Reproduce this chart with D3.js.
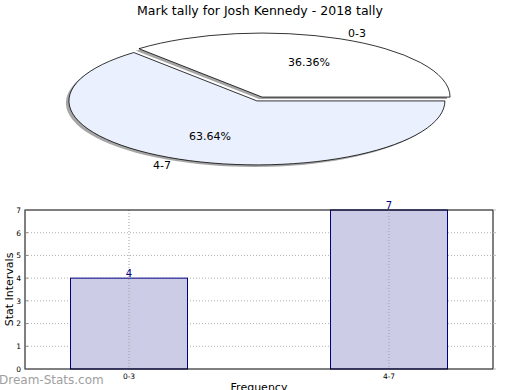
<!DOCTYPE html>
<html><head><meta charset="utf-8">
<script src="https://cdn.jsdelivr.net/npm/d3@7"></script>
<style>body{margin:0;background:#fff;} svg{display:block;font-family:"DejaVu Sans",sans-serif;}</style>
</head><body>
<script>
const title = "Mark tally for Josh Kennedy - 2018 tally";
const categories = ["0-3", "4-7"];
const values = [4, 7];
const pieColors = ["#ffffff", "#eaf0fd"];
const yTicks = [0, 1, 2, 3, 4, 5, 6, 7];
const xLabel = "Frequency";
const yLabel = "Stat Intervals";
const watermark = "Dream-Stats.com";

const W = 520, H = 390;
const svg = d3.select("body").append("svg").attr("width", W).attr("height", H);

svg.append("text").attr("x", 260).attr("y", 15).attr("text-anchor", "middle")
  .attr("font-size", 12.5).attr("fill", "#000").text(title);

// ---- Pie (elliptical, exploded, shadowed) ----
const cx = 259.5, cy = 99, rx = 188, ry = 64, explode = 0.033;
const total = d3.sum(values);
const pie = d3.pie().sort(null).startAngle(Math.PI / 2).endAngle(Math.PI / 2 - 2 * Math.PI);
const arcs = pie(values);
const arc = d3.arc().innerRadius(0).outerRadius(1);
const gPie = svg.append("g");

arcs.forEach((a) => {
  const mid = (a.startAngle + a.endAngle) / 2;
  const ux = Math.sin(mid), uy = -Math.cos(mid);
  a.ox = cx + explode * rx * ux;
  a.oy = cy + explode * ry * uy;
  a.ux = ux; a.uy = uy;
});
arcs.forEach((a) => {
  gPie.append("path").attr("d", arc(a))
    .attr("transform", `translate(${a.ox - 3},${a.oy + 2}) scale(${rx},${ry})`)
    .attr("fill", "#888").attr("fill-opacity", 0.75);
});
arcs.forEach((a, i) => {
  gPie.append("path").attr("d", arc(a))
    .attr("transform", `translate(${a.ox},${a.oy}) scale(${rx},${ry})`)
    .attr("fill", pieColors[i]).attr("stroke", "#000").attr("stroke-width", 0.8)
    .attr("vector-effect", "non-scaling-stroke");
});
arcs.forEach((a, i) => {
  const pct = (values[i] / total * 100).toFixed(2) + "%";
  gPie.append("text").attr("x", a.ox + 0.6 * rx * a.ux).attr("y", a.oy + 0.6 * ry * a.uy + 4)
    .attr("text-anchor", "middle").attr("font-size", 11).text(pct);
  const lx = a.ox + 1.1 * rx * a.ux, ly = a.oy + 1.1 * ry * a.uy;
  gPie.append("text").attr("x", lx).attr("y", ly + 4)
    .attr("text-anchor", a.ux < 0 ? "end" : "start").attr("font-size", 11).text(categories[i]);
});

// ---- Bar chart ----
const L = 25, R = 493, T = 210, B = 369;
const x = d3.scaleBand().domain(categories).range([L, R]).paddingInner(0.55).paddingOuter(0.175);
const y = d3.scaleLinear().domain([0, 7]).range([B, T]);
const g = svg.append("g");

g.selectAll(".hg").data(yTicks.filter(d => d > 0 && d < 7)).join("line")
  .attr("x1", L).attr("x2", R).attr("y1", d => y(d)).attr("y2", d => y(d))
  .attr("stroke", "#b0b0b0").attr("stroke-width", 1).attr("stroke-dasharray", "1,2");

g.selectAll(".bar").data(values).join("rect")
  .attr("x", (d, i) => x(categories[i])).attr("width", x.bandwidth())
  .attr("y", d => y(d)).attr("height", d => B - y(d))
  .attr("fill", "#ccccE6").attr("stroke", "#000080").attr("stroke-width", 1);

g.selectAll(".vg").data(categories).join("line")
  .attr("x1", d => x(d) + x.bandwidth() / 2).attr("x2", d => x(d) + x.bandwidth() / 2)
  .attr("y1", T).attr("y2", B)
  .attr("stroke", "#a0a0a0").attr("stroke-width", 1).attr("stroke-dasharray", "1,2");

g.selectAll(".vl").data(values).join("text")
  .attr("x", (d, i) => x(categories[i]) + x.bandwidth() / 2).attr("y", d => y(d) - 1)
  .attr("text-anchor", "middle").attr("font-size", 10).attr("fill", "#000080").text(d => d);

g.append("rect").attr("x", L).attr("y", T).attr("width", R - L).attr("height", B - T)
  .attr("fill", "none").attr("stroke", "#000").attr("stroke-width", 1);

const yAxis = d3.axisLeft(y).tickValues(yTicks).tickFormat(d3.format("d")).tickSize(0).tickPadding(4);
const ya = g.append("g").attr("transform", `translate(${L},0)`).call(yAxis);
ya.select(".domain").remove();
ya.selectAll("text").attr("font-size", 7.5).attr("font-family", "DejaVu Sans").attr("fill", "#000");

g.selectAll(".ytl").data(yTicks).join("line")
  .attr("x1", L).attr("x2", L + 3).attr("y1", d => y(d)).attr("y2", d => y(d))
  .attr("stroke", "#888");
g.selectAll(".ytr").data(yTicks).join("line")
  .attr("x1", R).attr("x2", R + 3).attr("y1", d => y(d)).attr("y2", d => y(d))
  .attr("stroke", "#bbb");

const xAxis = d3.axisBottom(x).tickSize(0).tickPadding(5);
const xa = g.append("g").attr("transform", `translate(0,${B})`).call(xAxis);
xa.select(".domain").remove();
xa.selectAll("text").attr("font-size", 7.5).attr("font-family", "DejaVu Sans").attr("fill", "#000");

svg.append("text").attr("transform", `translate(13,${(T + B) / 2}) rotate(-90)`)
  .attr("text-anchor", "middle").attr("font-size", 11).text(yLabel);
svg.append("text").attr("x", (L + R) / 2).attr("y", 391).attr("text-anchor", "middle")
  .attr("font-size", 11).text(xLabel);

svg.append("text").attr("x", -1).attr("y", 384).attr("font-size", 12)
  .attr("fill", "#a0a0a0").text(watermark);
</script>
</body></html>
